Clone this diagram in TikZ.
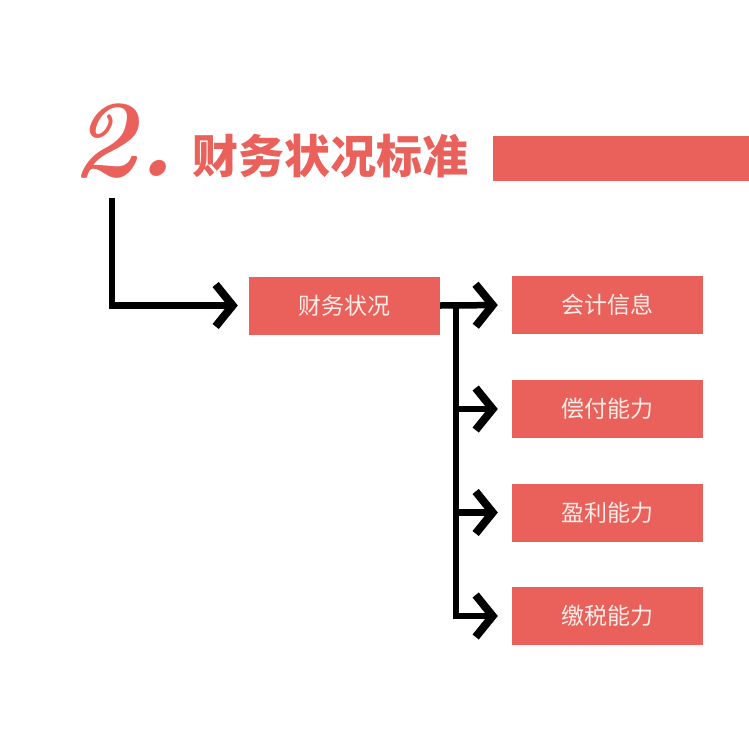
\documentclass[tikz,border=0pt]{standalone}
\usepackage{fontspec}
\newfontfamily\cjk{Noto Sans CJK SC}
\usetikzlibrary{arrows.meta}
\definecolor{boxred}{HTML}{E9615A}
\definecolor{boxtext}{HTML}{FCEDE8}
\tikzset{
    item/.style={fill=boxred, text=boxtext, inner sep=0pt,
        minimum width=191pt, minimum height=58pt,
        font=\cjk\fontsize{23}{23}\selectfont},
    link/.style={line width=6.5pt, black,
        -{Straight Barb[length=17pt, width=42pt, line width=8pt]}},
}
\begin{document}
\begin{tikzpicture}[x=1pt, y=-1pt]
    \useasboundingbox[fill=white] (0,0) rectangle (749,747);
    % 标题
    \node[text=boxred, font=\fontsize{110}{110}\selectfont\bfseries\itshape, inner sep=0pt] (num) at (124,141) {2.};
    \node[text=boxred, font=\cjk\bfseries\fontsize{46}{46}\selectfont, inner sep=0pt] (head) at (330,156) {财务状况标准};
    \node[fill=boxred, inner sep=0pt, minimum width=256pt, minimum height=45pt] (bar) at (621,158.5) {};
    % 方框
    \node[item] (status) at (344.5,305.5) {财务状况};
    \node[item] (info)   at (607.5,305)   {会计信息};
    \node[item] (solv)   at (607.5,409)   {偿付能力};
    \node[item] (profit) at (607.5,512.5) {盈利能力};
    \node[item] (tax)    at (607.5,616)   {缴税能力};
    % 连线
    \coordinate (start) at (112,198);
    \coordinate (spine) at (456,305);
    \draw[link, shorten >=11pt] (start) |- (status.west);
    \draw[link, shorten >=14pt] (status.east) -- (info.west);
    \draw[link, shorten >=14pt] (spine |- solv.west) -- (solv.west);
    \draw[link, shorten >=14pt] (spine |- profit.west) -- (profit.west);
    \draw[link, shorten >=14pt] (spine) |- (tax.west);
\end{tikzpicture}
\end{document}
